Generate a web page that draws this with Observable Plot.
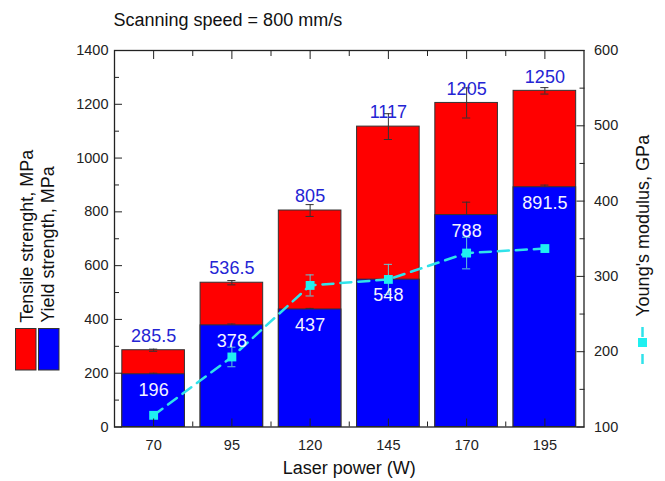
<!DOCTYPE html>
<html><head><meta charset="utf-8">
<script src="https://cdn.jsdelivr.net/npm/d3@7"></script>
<script src="https://cdn.jsdelivr.net/npm/@observablehq/plot@0.6"></script>
<style>body{margin:0;background:#fff} #chart{position:relative;width:665px;height:481px}</style>
</head><body><div id="chart"></div>
<script>
const laserPower = [70, 95, 120, 145, 170, 195];
const tensile = [285.5, 536.5, 805, 1117, 1205, 1250];
const tensileErr = [4, 8, 22, 48, 56, 12];
const yieldStr = [196, 378, 437, 548, 788, 891.5];
const yieldErr = [4, 5, 4, 6, 48, 8];
const youngs = [115.5, 193, 288, 296, 331, 337];
const youngsErr = [0, 13, 14, 20, 21, 0];
const leftTicks = [0, 200, 400, 600, 800, 1000, 1200, 1400];
const leftMinor = [100, 300, 500, 700, 900, 1100, 1300];
const rightTicks = [100, 200, 300, 400, 500, 600];
const rightMinor = [150, 250, 350, 450, 550];
const xMinor = [82.5, 107.5, 132.5, 157.5, 182.5];
const titleText = "Scanning speed = 800 mm/s";
const xTitle = "Laser power (W)";
const yTitle1 = "Tensile strenght, MPa";
const yTitle2 = "Yield strength, MPa";
const rTitle = "Young's modulus, GPa";

const toLeft = e => (e - 100) * 1400 / 500;
const fromLeft = v => v * 500 / 1400 + 100;
const rows = laserPower.map((p, i) => ({p, t: tensile[i], te: tensileErr[i], y: yieldStr[i], ye: yieldErr[i], e: youngs[i], ee: youngsErr[i]}));
const half = 10, cap = 1.3;
const RED = "#ff0000", BLUE = "#0000ff", CYAN = "#30e2ea", EBAR = "#5fc9d8";
const none = () => "";

const chart = Plot.plot({
  width: 665, height: 481,
  marginLeft: 114, marginRight: 81.5, marginTop: 50, marginBottom: 54.5,
  style: {fontFamily: "'Liberation Sans', Arial, sans-serif", fontSize: "14.5px", background: "white", color: "#222"},
  x: {domain: [57.5, 207.5]},
  y: {domain: [0, 1400]},
  marks: [
    Plot.rect(rows, {x1: d => d.p - half, x2: d => d.p + half, y1: 0, y2: "t", fill: RED, stroke: "#333", strokeWidth: 1}),
    Plot.ruleX(rows, {x: "p", y1: d => d.t - d.te, y2: d => d.t + d.te, stroke: "#333", strokeWidth: 1}),
    Plot.ruleY(rows, {y: d => d.t - d.te, x1: d => d.p - cap, x2: d => d.p + cap, stroke: "#333", strokeWidth: 1}),
    Plot.ruleY(rows, {y: d => d.t + d.te, x1: d => d.p - cap, x2: d => d.p + cap, stroke: "#333", strokeWidth: 1}),
    Plot.ruleX(rows, {x: "p", y1: d => d.y - d.ye, y2: d => d.y + d.ye, stroke: "#333", strokeWidth: 1}),
    Plot.ruleY(rows, {y: d => d.y + d.ye, x1: d => d.p - cap, x2: d => d.p + cap, stroke: "#333", strokeWidth: 1}),
    Plot.rect(rows, {x1: d => d.p - half, x2: d => d.p + half, y1: 0, y2: "y", fill: BLUE, stroke: "#333", strokeWidth: 1}),
    Plot.line(rows, {x: "p", y: d => toLeft(d.e), stroke: CYAN, strokeWidth: 2.5, strokeDasharray: "11,7"}),
    Plot.ruleX(rows.filter(d => d.ee > 0), {x: "p", y1: d => toLeft(d.e - d.ee), y2: d => toLeft(d.e + d.ee), stroke: EBAR, strokeWidth: 1}),
    Plot.ruleY(rows.filter(d => d.ee > 0), {y: d => toLeft(d.e - d.ee), x1: d => d.p - cap, x2: d => d.p + cap, stroke: EBAR, strokeWidth: 1}),
    Plot.ruleY(rows.filter(d => d.ee > 0), {y: d => toLeft(d.e + d.ee), x1: d => d.p - cap, x2: d => d.p + cap, stroke: EBAR, strokeWidth: 1}),
    Plot.dot(rows, {x: "p", y: d => toLeft(d.e), symbol: "square", r: 5, fill: "#1ff0f0", stroke: null}),
    Plot.text(rows, {x: "p", y: "t", text: d => String(d.t), dy: -14, fill: "#2424d4", fontSize: 18}),
    Plot.text(rows, {x: "p", y: "y", text: d => String(d.y), dy: 16, fill: "#f4f4ff", fontSize: 18}),
    // axes: labels
    Plot.axisY({anchor: "left", ticks: leftTicks, tickFormat: d => String(d), tickSize: 0, tickPadding: 6, label: null}),
    Plot.axisY({anchor: "right", ticks: rightTicks.map(toLeft), tickFormat: v => String(Math.round(fromLeft(v))), tickSize: 0, tickPadding: 10, label: null}),
    Plot.axisX({anchor: "bottom", ticks: laserPower, tickFormat: d => String(d), tickSize: 0, tickPadding: 13, label: null}),
    // axes: inward ticks
    Plot.axisY({anchor: "left", ticks: leftTicks, tickSize: 8, dx: 8, tickFormat: none, label: null}),
    Plot.axisY({anchor: "left", ticks: leftMinor, tickSize: 5, dx: 5, tickFormat: none, label: null}),
    Plot.axisY({anchor: "right", ticks: rightTicks.map(toLeft), tickSize: 8, dx: -8, tickFormat: none, label: null}),
    Plot.axisY({anchor: "right", ticks: rightMinor.map(toLeft), tickSize: 5, dx: -5, tickFormat: none, label: null}),
    Plot.axisX({anchor: "bottom", ticks: laserPower, tickSize: 8, dy: -8, tickFormat: none, label: null}),
    Plot.axisX({anchor: "bottom", ticks: xMinor, tickSize: 5, dy: -5, tickFormat: none, label: null}),
    Plot.axisX({anchor: "top", ticks: laserPower, tickSize: 8, dy: 8, tickFormat: none, label: null}),
    Plot.axisX({anchor: "top", ticks: xMinor, tickSize: 5, dy: 5, tickFormat: none, label: null}),
    Plot.frame({stroke: "#222", strokeWidth: 1.3}),
    // titles
    Plot.text([titleText], {text: d => d, frameAnchor: "top-left", textAnchor: "start", lineAnchor: "middle", dx: -1, dy: -30, fontSize: 18, fill: "#111"}),
    Plot.text([xTitle], {text: d => d, frameAnchor: "bottom", lineAnchor: "middle", dy: 41, fontSize: 18, fill: "#111"}),
    Plot.text([yTitle1], {text: d => d, frameAnchor: "left", rotate: -90, textAnchor: "start", lineAnchor: "middle", dx: -87, dy: 84, fontSize: 18, fill: "#111"}),
    Plot.text([yTitle2], {text: d => d, frameAnchor: "left", rotate: -90, textAnchor: "start", lineAnchor: "middle", dx: -66, dy: 84, fontSize: 18, fill: "#111"}),
    Plot.text([rTitle], {text: d => d, frameAnchor: "right", rotate: -90, textAnchor: "start", lineAnchor: "middle", dx: 59.5, dy: 78, fontSize: 18, fill: "#111"})
  ]
});
document.getElementById("chart").appendChild(chart);

// legend keys
const leg = d3.select("#chart").append("svg")
  .attr("width", 665).attr("height", 481)
  .style("position", "absolute").style("left", "0px").style("top", "0px").style("pointer-events", "none");
leg.append("rect").attr("x", 15.5).attr("y", 328.5).attr("width", 20.5).attr("height", 41.5).attr("fill", RED).attr("stroke", "#333");
leg.append("rect").attr("x", 38.5).attr("y", 328.5).attr("width", 20.5).attr("height", 41.5).attr("fill", BLUE).attr("stroke", "#333");
leg.append("line").attr("x1", 642.5).attr("x2", 642.5).attr("y1", 327).attr("y2", 337).attr("stroke", CYAN).attr("stroke-width", 2.5);
leg.append("line").attr("x1", 642.5).attr("x2", 642.5).attr("y1", 354).attr("y2", 364).attr("stroke", CYAN).attr("stroke-width", 2.5);
leg.append("rect").attr("x", 638).attr("y", 338).attr("width", 9).attr("height", 9).attr("fill", "#1ff0f0");
</script>
</body></html>
